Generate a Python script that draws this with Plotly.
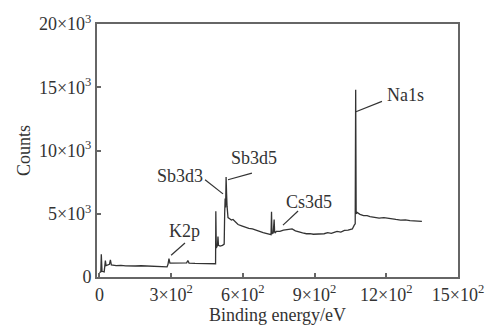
import plotly.graph_objects as go

# Binding energy (eV) and counts
energy = [0, 6, 8, 11, 20, 25, 28, 35, 42, 46, 50, 70, 90, 110, 128, 150, 175, 200, 230, 255,
          275, 283, 287, 291, 295, 300, 320, 345, 365, 370, 375, 400, 430, 460, 476, 486,
          487, 489, 494, 496, 498, 505, 515, 522, 524, 526, 528, 530, 532, 534, 536, 538,
          545, 552, 559, 570, 580, 595, 609, 625, 640, 651, 668, 685, 701, 712, 718, 720,
          722, 724, 727, 731, 733, 735, 740, 748, 755, 770, 785, 806, 820, 835, 850, 866,
          881, 895, 910, 923, 940, 955, 970, 985, 994, 1010, 1025, 1040, 1048, 1058, 1066,
          1070, 1072, 1074, 1078, 1090, 1105, 1120, 1132, 1150, 1170, 1190, 1216, 1240,
          1260, 1280, 1299, 1320, 1335, 1349]
counts = [350, 400, 1800, 450, 400, 1300, 900, 950, 1000, 1350, 950, 900, 920, 880, 900, 870,
          890, 860, 850, 830, 780, 800, 1000, 1450, 1100, 1100, 1080, 1100, 1120, 1300, 1100,
          1080, 1060, 1050, 1050, 1050, 5200, 2300, 2500, 3200, 2500, 2450, 2500, 2600, 5000,
          6200, 5500, 7900, 6600, 5600, 4800, 4700, 4600, 4500, 4550, 4300, 4150, 4050, 3950,
          3850, 3800, 3720, 3600, 3500, 3430, 3380, 3350, 5150, 3400, 3500, 3450, 4550, 3550,
          3500, 3600, 3580, 3600, 3700, 3750, 3800, 3650, 3550, 3480, 3420, 3430, 3380, 3400,
          3360, 3420, 3500, 3450, 3550, 3600, 3550, 3680, 3700, 3750, 3800, 4100, 4200, 14800,
          5000, 5100, 4950, 4850, 4850, 4780, 4700, 4650, 4700, 4600, 4550, 4500, 4520, 4460,
          4430, 4450, 4400]

x_tickvals = [0, 300, 600, 900, 1200, 1500]
x_ticktext = ["0", "3×10<sup>2</sup>", "6×10<sup>2</sup>", "9×10<sup>2</sup>",
              "12×10<sup>2</sup>", "15×10<sup>2</sup>"]
y_tickvals = [0, 5000, 10000, 15000, 20000]
y_ticktext = ["0", "5×10<sup>3</sup>", "10×10<sup>3</sup>", "15×10<sup>3</sup>", "20×10<sup>3</sup>"]

# Peak labels: text, label-line start (near peak), label-line end, text position
peak_labels = ["Na1s", "Sb3d5", "Sb3d3", "Cs3d5", "K2p"]
line_start_x = [1073, 538, 517, 768, 300]
line_start_y = [13060, 7690, 6570, 4100, 1720]
line_end_x = [1182, 638, 442, 831, 358]
line_end_y = [13880, 8210, 7690, 5220, 2690]
text_x = [1282, 645, 337, 877, 358]
text_y = [14400, 9400, 7990, 5900, 3660]

FONT = "Liberation Serif"
AX = "#666666"

fig = go.Figure()
fig.add_trace(go.Scatter(x=energy, y=counts, mode="lines",
                         line=dict(color="#333333", width=1.3), showlegend=False))

for i, lab in enumerate(peak_labels):
    fig.add_shape(type="line", x0=line_start_x[i], y0=line_start_y[i],
                  x1=line_end_x[i], y1=line_end_y[i], xref="x", yref="y",
                  line=dict(color="#333333", width=1.2))
    fig.add_annotation(x=text_x[i], y=text_y[i], text=lab, showarrow=False,
                       font=dict(family=FONT, size=18, color="#333333"),
                       xanchor="center", yanchor="middle")

axis_common = dict(showline=True, mirror=True, linewidth=2, linecolor=AX,
                   ticks="inside", ticklen=4, tickwidth=1.5, tickcolor=AX,
                   showgrid=False, zeroline=False,
                   tickfont=dict(family=FONT, size=18, color="#333333"))

fig.update_layout(
    width=496, height=331,
    margin=dict(l=97, r=38, t=15, b=48),
    paper_bgcolor="white", plot_bgcolor="white",
    xaxis=dict(range=[-10, 1500], tickvals=x_tickvals, ticktext=x_ticktext,
               title=dict(text="Binding energy/eV", standoff=2,
                          font=dict(family=FONT, size=18, color="#333333")),
               **axis_common),
    yaxis=dict(range=[0, 20000], tickvals=y_tickvals, ticktext=y_ticktext,
               title=dict(text="Counts", standoff=4,
                          font=dict(family=FONT, size=18, color="#333333")),
               **axis_common),
)

fig.write_html("out.html")
